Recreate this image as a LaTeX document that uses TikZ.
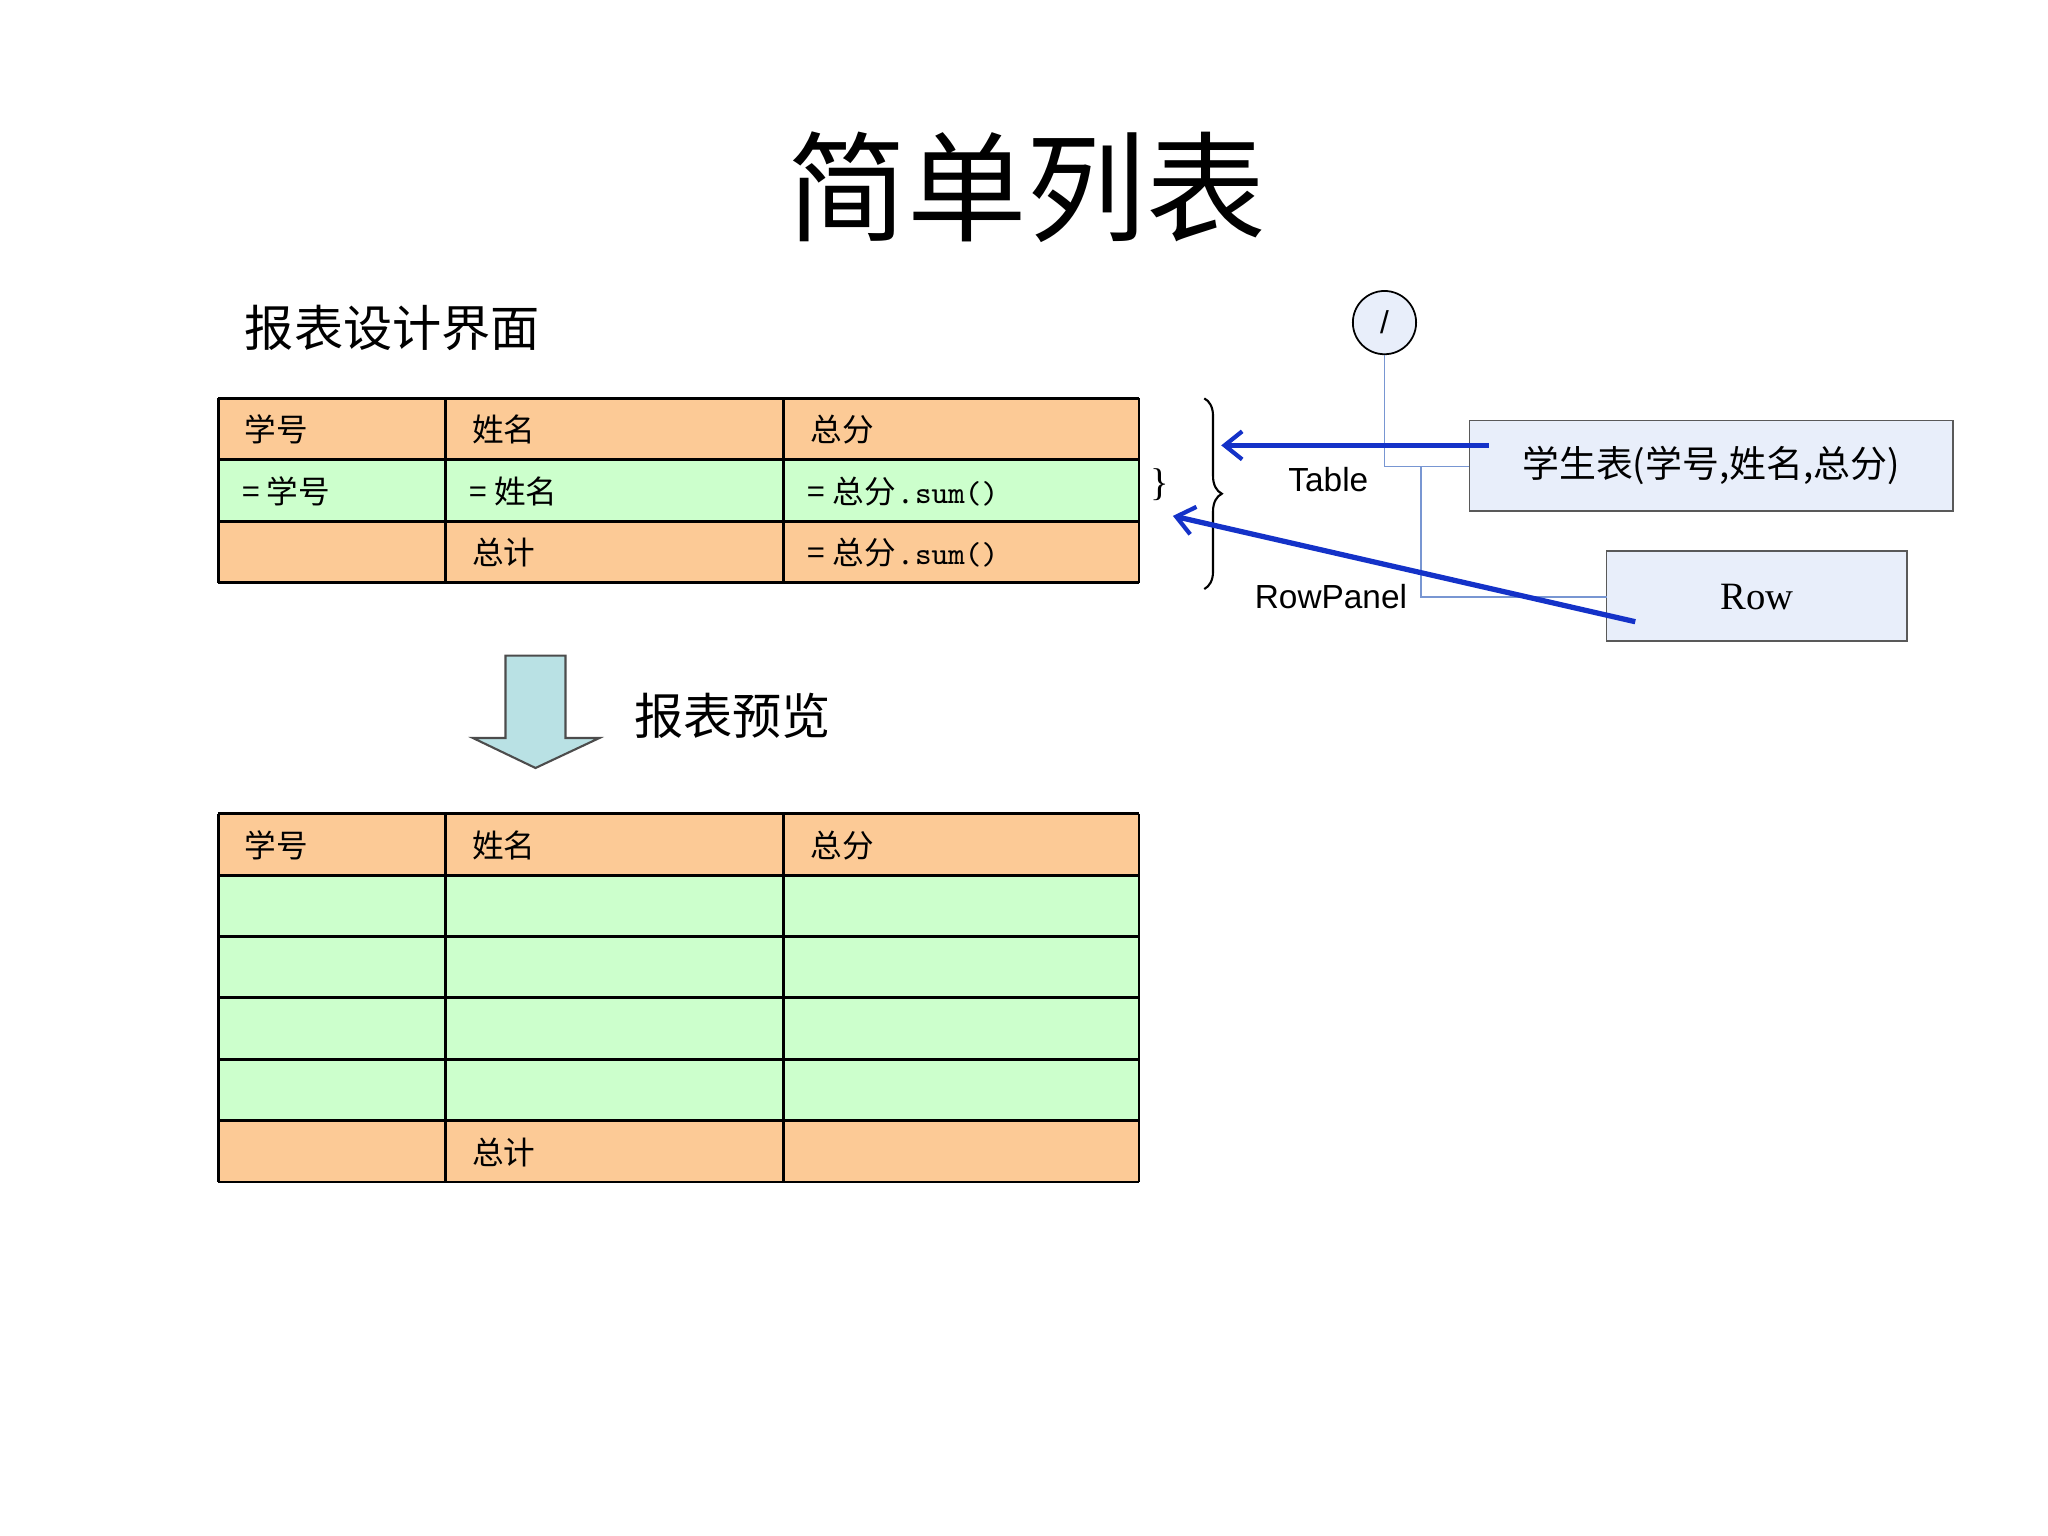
\documentclass[tikz,border=0pt]{standalone}
\usepackage{fontspec}
\setmainfont{Liberation Serif}
\newfontfamily\cjk{Noto Sans CJK SC}[Scale=1]
\newfontfamily\lsans{Liberation Sans}
\usetikzlibrary{arrows.meta,decorations.pathreplacing}
\definecolor{org}{RGB}{252,202,150}
\definecolor{grn}{RGB}{204,255,204}
\definecolor{pbox}{RGB}{232,238,250}
\definecolor{lline}{RGB}{120,150,210}
\definecolor{barrow}{RGB}{20,50,200}
\definecolor{arfill}{RGB}{185,225,228}
\begin{document}
\begin{tikzpicture}[x=0.013061cm,y=-0.013061cm,
  cell/.style={draw=black,line width=0.8pt},
  ctext/.style={anchor=west,font=\cjk\fontsize{9}{9}\selectfont},
  conn/.style={draw=lline,line width=0.4pt},
  barr/.style={draw=barrow,line width=1.5pt,-{Straight Barb[length=5pt,width=8pt,line width=1.2pt]}}]
\useasboundingbox (0,0) rectangle (1568,1176);
\node (title) at (786,143) {\cjk\fontsize{34}{34}\selectfont 简单列表};
\node[anchor=west] (sub) at (178,251) {\cjk\fontsize{14}{14}\selectfont 报表设计界面};
% design table
\foreach \y/\c in {305/org,352/grn,399/org}{
  \fill[\c] (167,\y) rectangle (872,\y+47);}
\foreach \y in {305,352,399,446} \draw[cell] (167,\y) -- (872,\y);
\foreach \x in {167,341,600,872} \draw[cell] (\x,305) -- (\x,446);
\node[ctext] (a1) at (178,329) {学号};
\node[ctext] (a2) at (352,329) {姓名};
\node[ctext] (a3) at (611,329) {总分};
\node[ctext] (b1) at (176,376) {= 学号};
\node[ctext] (b2) at (350,376) {= 姓名};
\node[ctext] (b3) at (609,376) {= 总分\,.\,{\ttfamily sum()}};
\node[ctext] (c2) at (352,423) {总计};
\node[ctext] (c3) at (609,423) {= 总分\,.\,{\ttfamily sum()}};
% braces
\node (sb) at (888,371) {\fontsize{11}{11}\selectfont\}};
\draw[line width=0.6pt,decorate,decoration={brace,amplitude=5pt}] (922,305) -- (922,451);
\coordinate (bt) at (935,341);
\coordinate (bp) at (898,395);
% right side
\node[draw,fill=pbox,circle,minimum size=18pt,inner sep=0pt,line width=0.5pt] (root) at (1060,247) {\lsans\fontsize{9}{9}\selectfont /};
\fill[pbox] (1125,322) rectangle (1495,391);
\draw[gray!70!black,line width=0.5pt] (1125,322) rectangle (1495,391);
\node (tbltext) at (1310,356) {\cjk\fontsize{10.5}{10.5}\selectfont 学生表(学号,姓名,总分)};
\fill[pbox] (1230,422) rectangle (1460,491);
\draw[gray!70!black,line width=0.5pt] (1230,422) rectangle (1460,491);
\node (row) at (1345,457) {\fontsize{11}{11}\selectfont Row};
\coordinate (tl) at (1125,357);
\coordinate (rl) at (1230,457);
\draw[conn] (root.south) |- (tl);
\draw[conn] (1088,357) |- (rl);
\node[font=\lsans\fontsize{9.5}{9.5}\selectfont] (tlab) at (1017,367) {Table};
\node[font=\lsans\fontsize{9.5}{9.5}\selectfont] (rlab) at (1019,457) {RowPanel};
\draw[barr] (1140,341) -- (bt);
\draw[barr] (1252,476) -- (bp);
% arrow
\draw[fill=arfill,draw=black!70,line width=0.6pt] (387,502) -- (433,502) -- (433,565) -- (459,565) -- (410,588) -- (362,565) -- (387,565) -- cycle;
\node[anchor=west] (prev) at (476,548) {\cjk\fontsize{14}{14}\selectfont 报表预览};
% preview table
\foreach \y/\c in {623/org,670/grn,717/grn,764/grn,811/grn,858/org}{
  \fill[\c] (167,\y) rectangle (872,\y+47);}
\foreach \y in {623,670,717,764,811,858,905} \draw[cell] (167,\y) -- (872,\y);
\foreach \x in {167,341,600,872} \draw[cell] (\x,623) -- (\x,905);
\node[ctext] (p1) at (178,647) {学号};
\node[ctext] (p2) at (352,647) {姓名};
\node[ctext] (p3) at (611,647) {总分};
\node[ctext] (p4) at (352,882) {总计};
\end{tikzpicture}
\end{document}
